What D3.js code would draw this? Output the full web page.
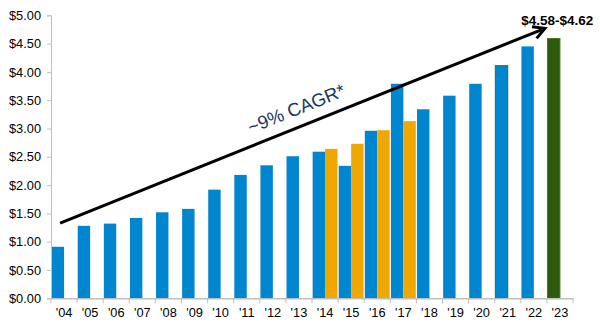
<!DOCTYPE html>
<html><head><meta charset="utf-8">
<script src="https://cdn.jsdelivr.net/npm/d3@7"></script>
<style>body{margin:0;background:#fff}svg{display:block}text{font-family:"Liberation Sans",Arial,sans-serif}</style>
</head><body><svg id="c" width="600" height="324"></svg>
<script>
const categories = ["'04","'05","'06","'07","'08","'09","'10","'11","'12","'13","'14","'15","'16","'17","'18","'19","'20","'21","'22","'23"];
const blueValues = [0.91,1.28,1.32,1.42,1.52,1.58,1.92,2.18,2.35,2.51,2.59,2.34,2.96,3.79,3.34,3.58,3.79,4.11,4.45,4.59];
const orangeCats = ["'14","'15","'16","'17"];
const orangeValues = [2.64,2.73,2.97,3.13];
const yTicks = [0,0.5,1,1.5,2,2.5,3,3.5,4,4.5,5];
const arrowStart = {cat:"'04", value:1.33};
const arrowEnd = {cat:"'23", value:4.77};
const guidanceLabel = "$4.58-$4.62";
const cagrLabel = "~9% CAGR*";

const svg = d3.select("#c");
const m = {l:51, r:27, t:15.3, b:25.7};
const W = 600, H = 324;
const x = d3.scaleBand().domain(categories).range([m.l, W - m.r]).paddingInner(0).paddingOuter(0);
const y = d3.scaleLinear().domain([0,5]).range([H - m.b, m.t]);
const sub = d3.scaleBand().domain(["a","b"]).range([0, x.bandwidth()]).paddingOuter(0.05).paddingInner(0);

const colorFor = c => c === "'23" ? "#2E5A0E" : "#0086CE";
const strokeFor = c => c === "'21" ? "#3C6A1E" : (c === "'23" ? "#4A7A25" : "none");

// bars
svg.append("g").selectAll("rect").data(categories).join("rect")
  .attr("x", c => x(c) + sub("a"))
  .attr("width", sub.bandwidth())
  .attr("y", (c,i) => y(blueValues[i]))
  .attr("height", (c,i) => y(0) - y(blueValues[i]))
  .attr("fill", c => colorFor(c))
  .attr("stroke", c => strokeFor(c))
  .attr("stroke-width", 1);

svg.append("g").selectAll("rect").data(orangeCats).join("rect")
  .attr("x", c => x(c) + sub("b"))
  .attr("width", sub.bandwidth())
  .attr("y", (c,i) => y(orangeValues[i]))
  .attr("height", (c,i) => y(0) - y(orangeValues[i]))
  .attr("fill", "#F0A800");

// y axis
const yAxis = svg.append("g").attr("transform", `translate(${m.l},0)`)
  .call(d3.axisLeft(y).tickValues(yTicks).tickFormat(d => "$" + d.toFixed(2)).tickSize(4).tickPadding(6));
yAxis.select(".domain").attr("stroke", "#bfbfbf");
yAxis.selectAll(".tick line").attr("stroke", "#bfbfbf");
yAxis.selectAll("text").attr("font-size", 12.8).attr("fill", "#000");

// x axis
const xAxis = svg.append("g").attr("transform", `translate(0,${y(0)})`)
  .call(d3.axisBottom(x).tickSize(0).tickPadding(10));
xAxis.select(".domain").attr("stroke", "#bfbfbf").attr("stroke-width", 1.5);
xAxis.selectAll("text").attr("font-size", 12.8).attr("fill", "#000");
const bounds = categories.map(c => x(c)).concat([x(categories[categories.length-1]) + x.bandwidth()]);
xAxis.append("g").selectAll("line").data(bounds).join("line")
  .attr("x1", d => d).attr("x2", d => d).attr("y1", 0).attr("y2", 5)
  .attr("stroke", "#bfbfbf");

// arrow
const x0 = x(arrowStart.cat) + x.bandwidth()*0.35, y0 = y(arrowStart.value);
const x1 = x(arrowEnd.cat) - 2, y1 = y(arrowEnd.value);
svg.append("line").attr("x1", x0).attr("y1", y0).attr("x2", x1 - 3).attr("y2", y1 + 1.2)
  .attr("stroke", "#000").attr("stroke-width", 3);
const ang = Math.atan2(y1 - y0, x1 - x0);
const hl = 13, ha = 0.5;
const p1 = [x1 - hl*Math.cos(ang - ha), y1 - hl*Math.sin(ang - ha)];
const p2 = [x1 - hl*Math.cos(ang + ha), y1 - hl*Math.sin(ang + ha)];
svg.append("path").attr("d", `M${p1[0]},${p1[1]}L${x1},${y1}L${p2[0]},${p2[1]}`)
  .attr("fill", "none").attr("stroke", "#000").attr("stroke-width", 3).attr("stroke-linejoin", "miter");

// CAGR label
const deg = ang * 180 / Math.PI;
const cx = x0 + (x1 - x0)*0.49, cy = y0 + (y1 - y0)*0.49;
svg.append("text").attr("transform", `translate(${cx + 1},${cy - 13}) rotate(${deg})`)
  .attr("text-anchor", "middle").attr("font-size", 18.5).attr("fill", "#17375E").text(cagrLabel);

// guidance label
svg.append("text").attr("x", x(arrowEnd.cat) + x.bandwidth()*0.4).attr("y", 25)
  .attr("text-anchor", "middle").attr("font-size", 13.5).attr("font-weight", "bold").attr("fill", "#000").text(guidanceLabel);
</script></body></html>
